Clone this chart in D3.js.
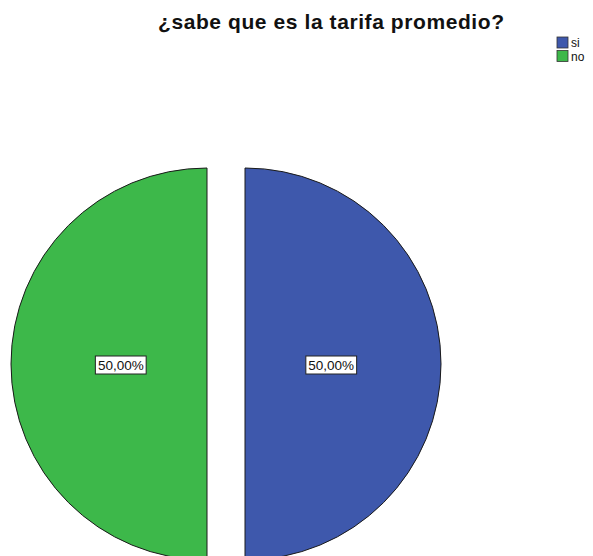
<!DOCTYPE html>
<html>
<head>
<meta charset="utf-8">
<script src="https://cdn.jsdelivr.net/npm/d3@7/dist/d3.min.js"></script>
<style>
  html, body { margin: 0; padding: 0; background: #fff; }
  svg { display: block; }
</style>
</head>
<body>
<svg id="chart" width="593" height="556"></svg>
<script>
// Response categories, their shares (%) and slice colours
const categories = ["si", "no"];
const values = [50, 50];
const colors = ["#3e58ac", "#3db84a"];
const title = "¿sabe que es la tarifa promedio?";

const svg = d3.select("#chart");

// Pie geometry
const cx = 226, cy = 364, radius = 196, explode = 19;

svg.append("text")
  .attr("x", 331)
  .attr("y", 29)
  .attr("text-anchor", "middle")
  .attr("font-family", "Liberation Sans, Arial, sans-serif")
  .attr("font-weight", "bold")
  .attr("font-size", 21)
  .attr("textLength", 346)
  .attr("lengthAdjust", "spacing")
  .attr("fill", "#111")
  .text(title);

const pie = d3.pie().sort(null).value(d => d.value);
const arcs = pie(categories.map((c, i) => ({ cat: c, value: values[i], color: colors[i] })));

const arc = d3.arc().innerRadius(0).outerRadius(radius);
const labelArc = d3.arc().innerRadius(radius * 0.44).outerRadius(radius * 0.44);

const g = svg.append("g").attr("transform", `translate(${cx},${cy})`);

const slice = g.selectAll("g.slice")
  .data(arcs)
  .join("g")
  .attr("class", "slice")
  .attr("transform", d => {
    const a = (d.startAngle + d.endAngle) / 2;
    return `translate(${Math.sin(a) * explode},${-Math.cos(a) * explode})`;
  });

slice.append("path")
  .attr("d", arc)
  .attr("fill", d => d.data.color)
  .attr("stroke", "#1a1a1a")
  .attr("stroke-width", 1);

const fmt = v => d3.format(".2f")(v).replace(".", ",") + "%";

slice.each(function(d) {
  const sel = d3.select(this);
  const [lx, ly] = labelArc.centroid(d);
  const t = sel.append("text")
    .attr("x", lx)
    .attr("y", ly + 1)
    .attr("text-anchor", "middle")
    .attr("dominant-baseline", "central")
    .attr("font-family", "Liberation Sans, Arial, sans-serif")
    .attr("font-size", 13.5)
    .attr("fill", "#111")
    .text(fmt(d.data.value));
  const bb = t.node().getBBox();
  sel.insert("rect", "text")
    .attr("x", bb.x - 2.5)
    .attr("y", bb.y - 1.5)
    .attr("width", bb.width + 5)
    .attr("height", bb.height + 3)
    .attr("fill", "#fff")
    .attr("stroke", "#222")
    .attr("stroke-width", 1);
});

// Legend
const legend = svg.append("g").attr("transform", "translate(557,37)");
const item = legend.selectAll("g")
  .data(categories)
  .join("g")
  .attr("transform", (d, i) => `translate(0,${i * 13.5})`);
item.append("rect")
  .attr("width", 11).attr("height", 11)
  .attr("fill", (d, i) => colors[i])
  .attr("stroke", "#333").attr("stroke-width", 0.8);
item.append("text")
  .attr("x", 14).attr("y", 10)
  .attr("font-family", "Liberation Sans, Arial, sans-serif")
  .attr("font-size", 12)
  .attr("fill", "#111")
  .text(d => d);
</script>
</body>
</html>
